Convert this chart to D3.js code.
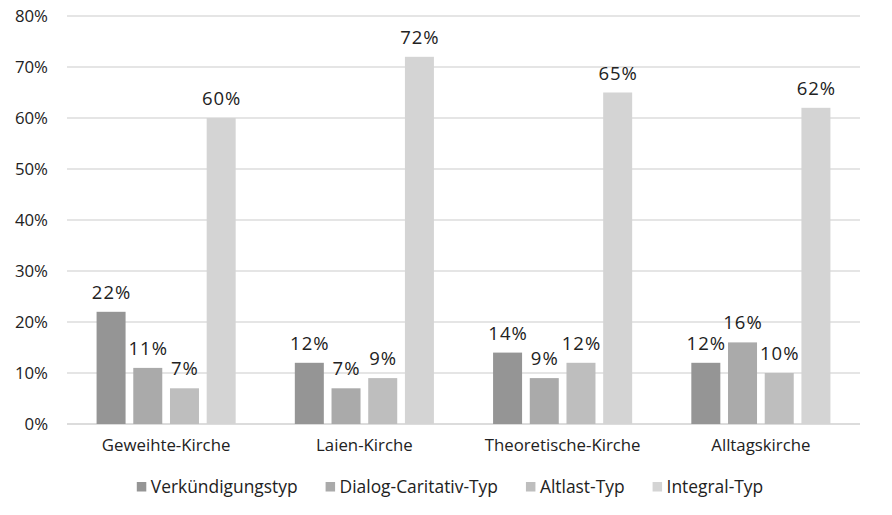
<!DOCTYPE html>
<html><head><meta charset="utf-8">
<script src="https://cdn.jsdelivr.net/npm/d3@7"></script>
<style>body{margin:0;background:#fff}svg{display:block}text{font-family:"Open Sans",sans-serif;fill:#222}</style>
</head><body><svg id="c" width="892" height="515"></svg>
<script>
const categories = ["Geweihte-Kirche","Laien-Kirche","Theoretische-Kirche","Alltagskirche"];
const seriesNames = ["Verkündigungstyp","Dialog-Caritativ-Typ","Altlast-Typ","Integral-Typ"];
const verkuendigung = [22,12,14,12];
const dialog = [11,7,9,16];
const altlast = [7,9,12,10];
const integral = [60,72,65,62];
const yTicks = [0,10,20,30,40,50,60,70,80];
const colors = ["#959595","#aaaaaa","#bebebe","#d4d4d4"];
const series = [verkuendigung,dialog,altlast,integral];

(function(){
const svg = d3.select("#c");
const mLeft=67,mRight=860,mTop=16,mBottom=424;
const x0 = d3.scaleBand().domain(categories).range([mLeft,mRight]);
const y = d3.scaleLinear().domain([0,80]).range([mBottom,mTop]);

svg.append("g").selectAll("line").data(yTicks).join("line")
 .attr("x1",mLeft).attr("x2",mRight).attr("y1",d=>y(d)).attr("y2",d=>y(d))
 .attr("stroke",d=>d===0?"#d0d0d0":"#dcdcdc").attr("stroke-width",1.3);
svg.append("g").selectAll("text").data(yTicks).join("text")
 .attr("x",48).attr("y",d=>y(d)).attr("dy","0.37em").attr("text-anchor","end")
 .attr("font-size",16.8).text(d=>d+"%");

const bw=29, gap=7.7;
const inner = d3.scaleBand().domain(d3.range(4)).range([0,4*bw+3*gap]).paddingInner(gap/(bw+gap));
categories.forEach((c,ci)=>{
  const cx = x0(c)+x0.bandwidth()/2;
  const start = cx-(4*bw+3*gap)/2;
  const g = svg.append("g").attr("transform",`translate(${start},0)`);
  series.forEach((s,si)=>{
    g.append("rect").attr("x",inner(si)).attr("width",inner.bandwidth())
     .attr("y",y(s[ci])).attr("height",y(0)-y(s[ci])).attr("fill",colors[si]);
    g.append("text").attr("x",inner(si)+inner.bandwidth()/2+0.5).attr("y",y(s[ci])-13)
     .attr("text-anchor","middle").attr("font-size",18.5).attr("letter-spacing","1px").text(s[ci]+"%");
  });
  svg.append("text").attr("x",cx).attr("y",451).attr("text-anchor","middle").attr("font-size",16.8).text(c);
});

const leg = svg.append("g");
let lx=0;
seriesNames.forEach((n,i)=>{
  const it = leg.append("g").attr("transform",`translate(${lx},0)`);
  it.append("rect").attr("x",0).attr("y",-5).attr("width",9.5).attr("height",9.5).attr("fill",colors[i]);
  const t = it.append("text").attr("x",14).attr("y",0).attr("dy","0.36em").attr("font-size",17.4).text(n);
  lx += 14 + t.node().getComputedTextLength() + 28;
});
const total = lx-28;
leg.attr("transform",`translate(${450-total/2},487)`);
})();
</script></body></html>
